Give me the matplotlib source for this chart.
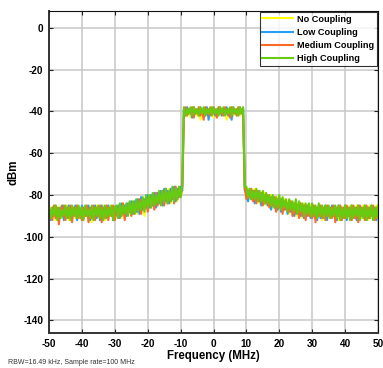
"""Spectrum of the four coupling cases"""

# import libraries / modules
# ========================================
import numpy as np
import matplotlib
matplotlib.use('Agg')
import matplotlib.pyplot as plt

# data (dBm every 0.5 MHz, -50 .. 50 MHz)
# ========================================
freq = np.arange(-50, 50.25, 0.5)  # MHz

no_coupling = [
    -91, -86, -90, -85, -92, -86, -89, -85, -91, -86,
    -90, -85, -92, -86, -90, -86, -91, -85, -90, -86,
    -92, -86, -90, -85, -91, -86, -93, -86, -90, -85,
    -91, -86, -90, -85, -92, -86, -91, -85, -90, -86,
    -91,
    -86, -90, -85, -91, -84, -90, -85, -89, -84, -90,
    -83, -88, -83, -89, -82, -88, -82, -90, -81, -87,
    -80, -85, -80, -86, -79, -85, -79, -84, -78, -84,
    -78, -83, -77, -84, -77, -82, -77, -83, -76, -81,
    -77,
    -41, -38, -42, -39, -43, -38, -41, -39, -42, -38,
    -44, -39, -41, -38, -42, -39, -41, -38, -43, -39,
    -41, -38, -42, -39, -41, -38, -44, -39, -41, -38,
    -42, -39, -41, -38, -42, -39, -41,
    -77,
    -81, -77, -82, -78, -82, -77, -83, -78, -84, -79,
    -84, -79, -85, -80, -86, -80, -86, -81, -87, -81,
    -87, -82, -88, -82, -87, -83, -89, -83, -88, -84,
    -90, -84, -89, -85, -91, -84, -90, -85, -89, -85,
    -90, -85, -91, -86, -90, -85, -92, -86, -90, -85,
    -91, -86, -90, -85, -91, -86, -92, -85, -90, -86,
    -91, -86, -90, -85, -92, -86, -91, -85, -90, -86,
    -91, -85, -90, -86, -92, -85, -91, -86, -90, -85, -91,
]

low_coupling = [
    -88, -92, -86, -89, -85, -91, -87, -90, -85, -92,
    -86, -89, -85, -91, -87, -90, -85, -92, -86, -89,
    -85, -91, -86, -90, -85, -92, -87, -89, -85, -91,
    -86, -92, -85, -90, -87, -91, -85, -89, -86, -92,
    -87,
    -89, -85, -91, -84, -89, -85, -90, -84, -88, -83,
    -89, -83, -88, -82, -89, -81, -87, -82, -86, -80,
    -86, -80, -85, -79, -86, -79, -84, -78, -85, -77,
    -83, -78, -84, -77, -82, -76, -83, -77, -81, -76,
    -78,
    -39, -42, -38, -41, -39, -43, -38, -41, -39, -42,
    -38, -41, -39, -42, -38, -44, -39, -41, -38, -42,
    -39, -41, -38, -42, -39, -41, -38, -42, -39, -44,
    -38, -41, -39, -42, -38, -41, -39,
    -78,
    -79, -83, -77, -82, -78, -84, -78, -83, -79, -85,
    -80, -84, -80, -85, -81, -87, -81, -86, -82, -87,
    -82, -88, -83, -87, -83, -89, -84, -88, -84, -90,
    -85, -89, -84, -90, -85, -91, -85, -90, -86, -91,
    -85, -90, -86, -92, -85, -91, -86, -90, -85, -92,
    -86, -91, -85, -90, -86, -92, -85, -91, -86, -90,
    -85, -92, -86, -91, -85, -90, -86, -92, -85, -91,
    -86, -90, -85, -92, -86, -91, -85, -90, -86, -92, -86,
]

medium_coupling = [
    -90, -87, -92, -85, -91, -86, -94, -86, -90, -85,
    -92, -86, -91, -85, -93, -86, -90, -85, -91, -87,
    -92, -86, -90, -85, -93, -86, -91, -85, -92, -86,
    -90, -85, -93, -86, -91, -85, -92, -86, -90, -85,
    -92,
    -87, -91, -85, -90, -84, -92, -85, -89, -84, -90,
    -84, -89, -83, -88, -82, -89, -82, -87, -81, -88,
    -81, -86, -80, -87, -79, -85, -80, -84, -78, -85,
    -77, -84, -78, -83, -77, -84, -76, -82, -77, -81,
    -76,
    -40, -38, -42, -39, -41, -38, -43, -39, -41, -38,
    -42, -39, -44, -38, -41, -39, -42, -38, -41, -39,
    -43, -38, -41, -39, -42, -38, -41, -39, -43, -38,
    -41, -39, -42, -38, -41, -39, -42,
    -76,
    -82, -78, -81, -77, -83, -78, -84, -78, -83, -79,
    -85, -80, -84, -80, -86, -81, -85, -81, -88, -82,
    -86, -82, -89, -83, -87, -84, -88, -83, -90, -84,
    -89, -85, -91, -84, -90, -85, -92, -85, -90, -86,
    -91, -85, -93, -86, -90, -85, -91, -86, -92, -85,
    -90, -86, -91, -85, -93, -86, -90, -85, -92, -86,
    -91, -85, -90, -86, -92, -85, -91, -86, -93, -85,
    -90, -86, -92, -85, -91, -86, -90, -85, -92, -86, -91,
]

high_coupling = [
    -85, -91, -86, -90, -85, -92, -86, -91, -87, -90,
    -85, -91, -86, -92, -85, -90, -86, -91, -85, -91,
    -86, -92, -85, -90, -87, -91, -85, -92, -86, -90,
    -85, -91, -86, -92, -85, -91, -86, -90, -85, -92,
    -86,
    -85, -91, -84, -90, -85, -89, -84, -90, -83, -89,
    -83, -89, -82, -88, -83, -87, -81, -88, -80, -86,
    -80, -86, -79, -85, -80, -84, -78, -85, -78, -83,
    -77, -84, -78, -83, -76, -83, -77, -82, -76, -81,
    -75,
    -38, -42, -39, -41, -38, -42, -38, -41, -39, -42,
    -38, -41, -38, -42, -39, -41, -38, -42, -38, -41,
    -39, -42, -38, -41, -38, -42, -39, -41, -38, -42,
    -38, -41, -39, -42, -38, -41, -38,
    -76,
    -76, -81, -77, -82, -78, -82, -77, -83, -78, -83,
    -78, -84, -79, -84, -80, -85, -80, -86, -81, -86,
    -80, -87, -81, -86, -82, -88, -82, -87, -83, -88,
    -82, -89, -83, -88, -84, -90, -84, -89, -84, -90,
    -84, -90, -85, -91, -84, -90, -85, -91, -85, -90,
    -85, -91, -86, -90, -85, -91, -85, -92, -86, -91,
    -85, -91, -86, -92, -85, -91, -86, -90, -85, -92,
    -86, -91, -85, -92, -86, -91, -85, -92, -86, -91, -85,
]

labels = ['No Coupling', 'Low Coupling', 'Medium Coupling', 'High Coupling']
colors = ['#ffff00', '#2a9df4', '#ff6a2a', '#66cc11']
series = [no_coupling, low_coupling, medium_coupling, high_coupling]

# plot
# ========================================
plt.rcParams['font.family'] = ['Liberation Sans', 'DejaVu Sans']
plt.rcParams['axes.unicode_minus'] = False
fig = plt.figure(figsize=(3.83, 3.68), dpi=100)
ax = fig.add_axes([0.128, 0.095, 0.859, 0.875])

for s, c, lab in zip(series, colors, labels):
    ax.plot(freq, s, color=c, lw=1.5, label=lab)

ax.set_xlim(-50, 50)
ax.set_ylim(-146, 8)
ax.set_xticks(np.arange(-50, 51, 10))
ax.set_yticks(np.arange(-140, 1, 20))
ax.grid(True, color='#c8c8c8', lw=1.1)
ax.set_axisbelow(True)
ax.tick_params(direction='in', length=3, width=0.8, top=True, right=True,
               labelsize=7.2, pad=4, color='#222222')
for t in ax.get_xticklabels() + ax.get_yticklabels():
    t.set_fontweight('bold')
for side in ['left', 'bottom']:
    ax.spines[side].set_linewidth(1.4)
    ax.spines[side].set_color('#333333')
for side in ['top', 'right']:
    ax.spines[side].set_linewidth(0.8)
    ax.spines[side].set_color('#111111')

ax.set_xlabel('Frequency (MHz)', fontsize=8.3, fontweight='bold', labelpad=1)
ax.set_ylabel('dBm', fontsize=8.3, fontweight='bold', labelpad=3)

leg = ax.legend(loc='upper right', prop={'weight': 'bold', 'size': 6.6},
                frameon=True, fancybox=False, borderaxespad=0.1,
                handlelength=3.3, handletextpad=0.5, labelspacing=0.45,
                borderpad=0.3)
leg.get_frame().set_edgecolor('black')
leg.get_frame().set_linewidth(0.8)

fig.text(0.02, 0.012, 'RBW=16.49 kHz, Sample rate=100 MHz', fontsize=5.0,
         color='#333333')

fig.savefig('out.png', dpi=100)
